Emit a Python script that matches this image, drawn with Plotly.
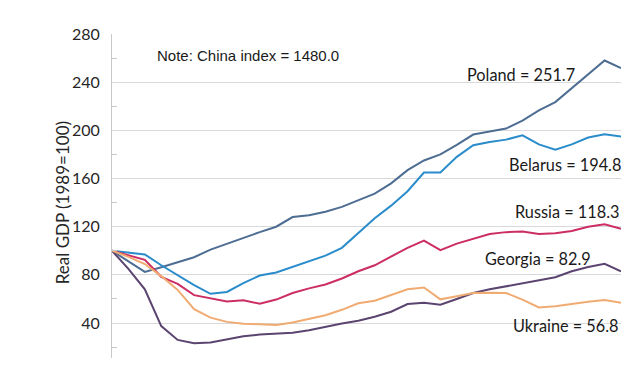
import plotly.graph_objects as go

years = list(range(1989, 2021))

poland = [100, 91, 82.5, 86.4, 90.6, 94.7, 101, 106, 111, 115.5, 120, 128, 129.5, 132.5, 136.5, 142,
          147.5, 156, 167, 175, 180, 188, 196.5, 199, 201.5, 208, 216.5, 223.5, 235, 247, 258, 251.7]
belarus = [100, 98.5, 97, 88, 80, 71.5, 64.3, 65.8, 73.2, 79.5, 82, 86.7, 91.5, 96, 102.5, 114.5,
           127, 137.5, 149.5, 165, 165, 178, 187.6, 190.3, 192.3, 195.9, 188.4, 184, 188.4, 194, 196.7, 194.8]
russia = [100, 96.5, 92.5, 78.4, 72.5, 63.2, 60.5, 58, 59, 56, 59.5, 65, 68.8, 72, 77, 83,
          88, 95, 102.5, 108.5, 100.5, 106, 110, 114, 115.5, 116, 114, 114.5, 116.5, 120, 122, 118.3]
georgia = [100, 85, 68, 37.5, 26, 23.3, 23.8, 26.5, 29, 30.5, 31.2, 32, 34, 37, 39.7, 42,
           45.2, 49.4, 55.8, 56.8, 55.3, 60, 65, 68, 70.5, 73, 75.5, 78, 83, 86.5, 89.2, 82.9]
ukraine = [100, 95, 89, 79, 67.5, 51.5, 44.5, 41, 39.5, 38.7, 38.5, 40.5, 43.5, 46.5, 51, 56.5,
           58.5, 63, 68, 69.5, 59.7, 62.2, 65, 65.2, 65, 59.5, 53, 54, 56, 57.7, 59.2, 56.8]

series = [
    ("Poland", poland, "#4d6d92"),
    ("Belarus", belarus, "#2b8ccb"),
    ("Russia", russia, "#cc2e64"),
    ("Georgia", georgia, "#5b4470"),
    ("Ukraine", ukraine, "#f0ab72"),
]

# label text, right edge (paper x), vertical centre (data y)
labels = [
    ("Poland = 251.7", 0.913, 246.5),
    ("Belarus = 194.8", 1.004, 171.5),
    ("Russia = 118.3", 1.0, 132.5),
    ("Georgia = 82.9", 0.945, 93.5),
    ("Ukraine = 56.8", 1.0, 38),
]
note = "Note: China index = 1480.0"

fig = go.Figure()
for name, vals, col in series:
    fig.add_trace(go.Scatter(x=years, y=vals, mode="lines", name=name,
                             line=dict(color=col, width=2)))

for txt, xv, yv in labels:
    fig.add_annotation(xref="paper", yref="y", x=xv, y=yv, text=txt, showarrow=False,
                       xanchor="right", yanchor="middle",
                       font=dict(family="Lato", size=16.3, color="#1a1a1a"))

fig.add_annotation(x=1991.6, y=262.2, text=note, showarrow=False, xanchor="left", yanchor="middle",
                   font=dict(family="Liberation Sans", size=15, color="#1a1a1a"))

fig.add_annotation(xref="paper", yref="paper", x=-0.098, y=0.478, text="Real GDP (1989=100)",
                   textangle=-90, showarrow=False, xanchor="center", yanchor="middle",
                   font=dict(family="Lato", size=17, color="#262626"))

# page body has an 8px margin, so the figure is 8px smaller and margins shifted accordingly
fig.update_layout(
    width=632, height=363,
    margin=dict(l=104, r=19, t=25.5, b=13),
    paper_bgcolor="white", plot_bgcolor="white",
    showlegend=False,
    xaxis=dict(range=[1989, 2020], showgrid=False, showticklabels=False, zeroline=False,
               showline=False, ticks=""),
    yaxis=dict(range=[11, 280], tickvals=[40, 80, 120, 160, 200, 240, 280],
               showgrid=True, gridcolor="#d9d9d9", gridwidth=1, zeroline=False,
               showline=True, linecolor="#c8c8c8", linewidth=1,
               ticks="", ticklabelstandoff=8,
               tickfont=dict(family="Lato", size=16, color="#262626"),
               minor=dict(tickvals=[20, 60, 100, 140, 180, 220, 260], ticks="inside",
                          ticklen=5, tickcolor="#c8c8c8", showgrid=False)),
)

fig.write_html("out.html")
